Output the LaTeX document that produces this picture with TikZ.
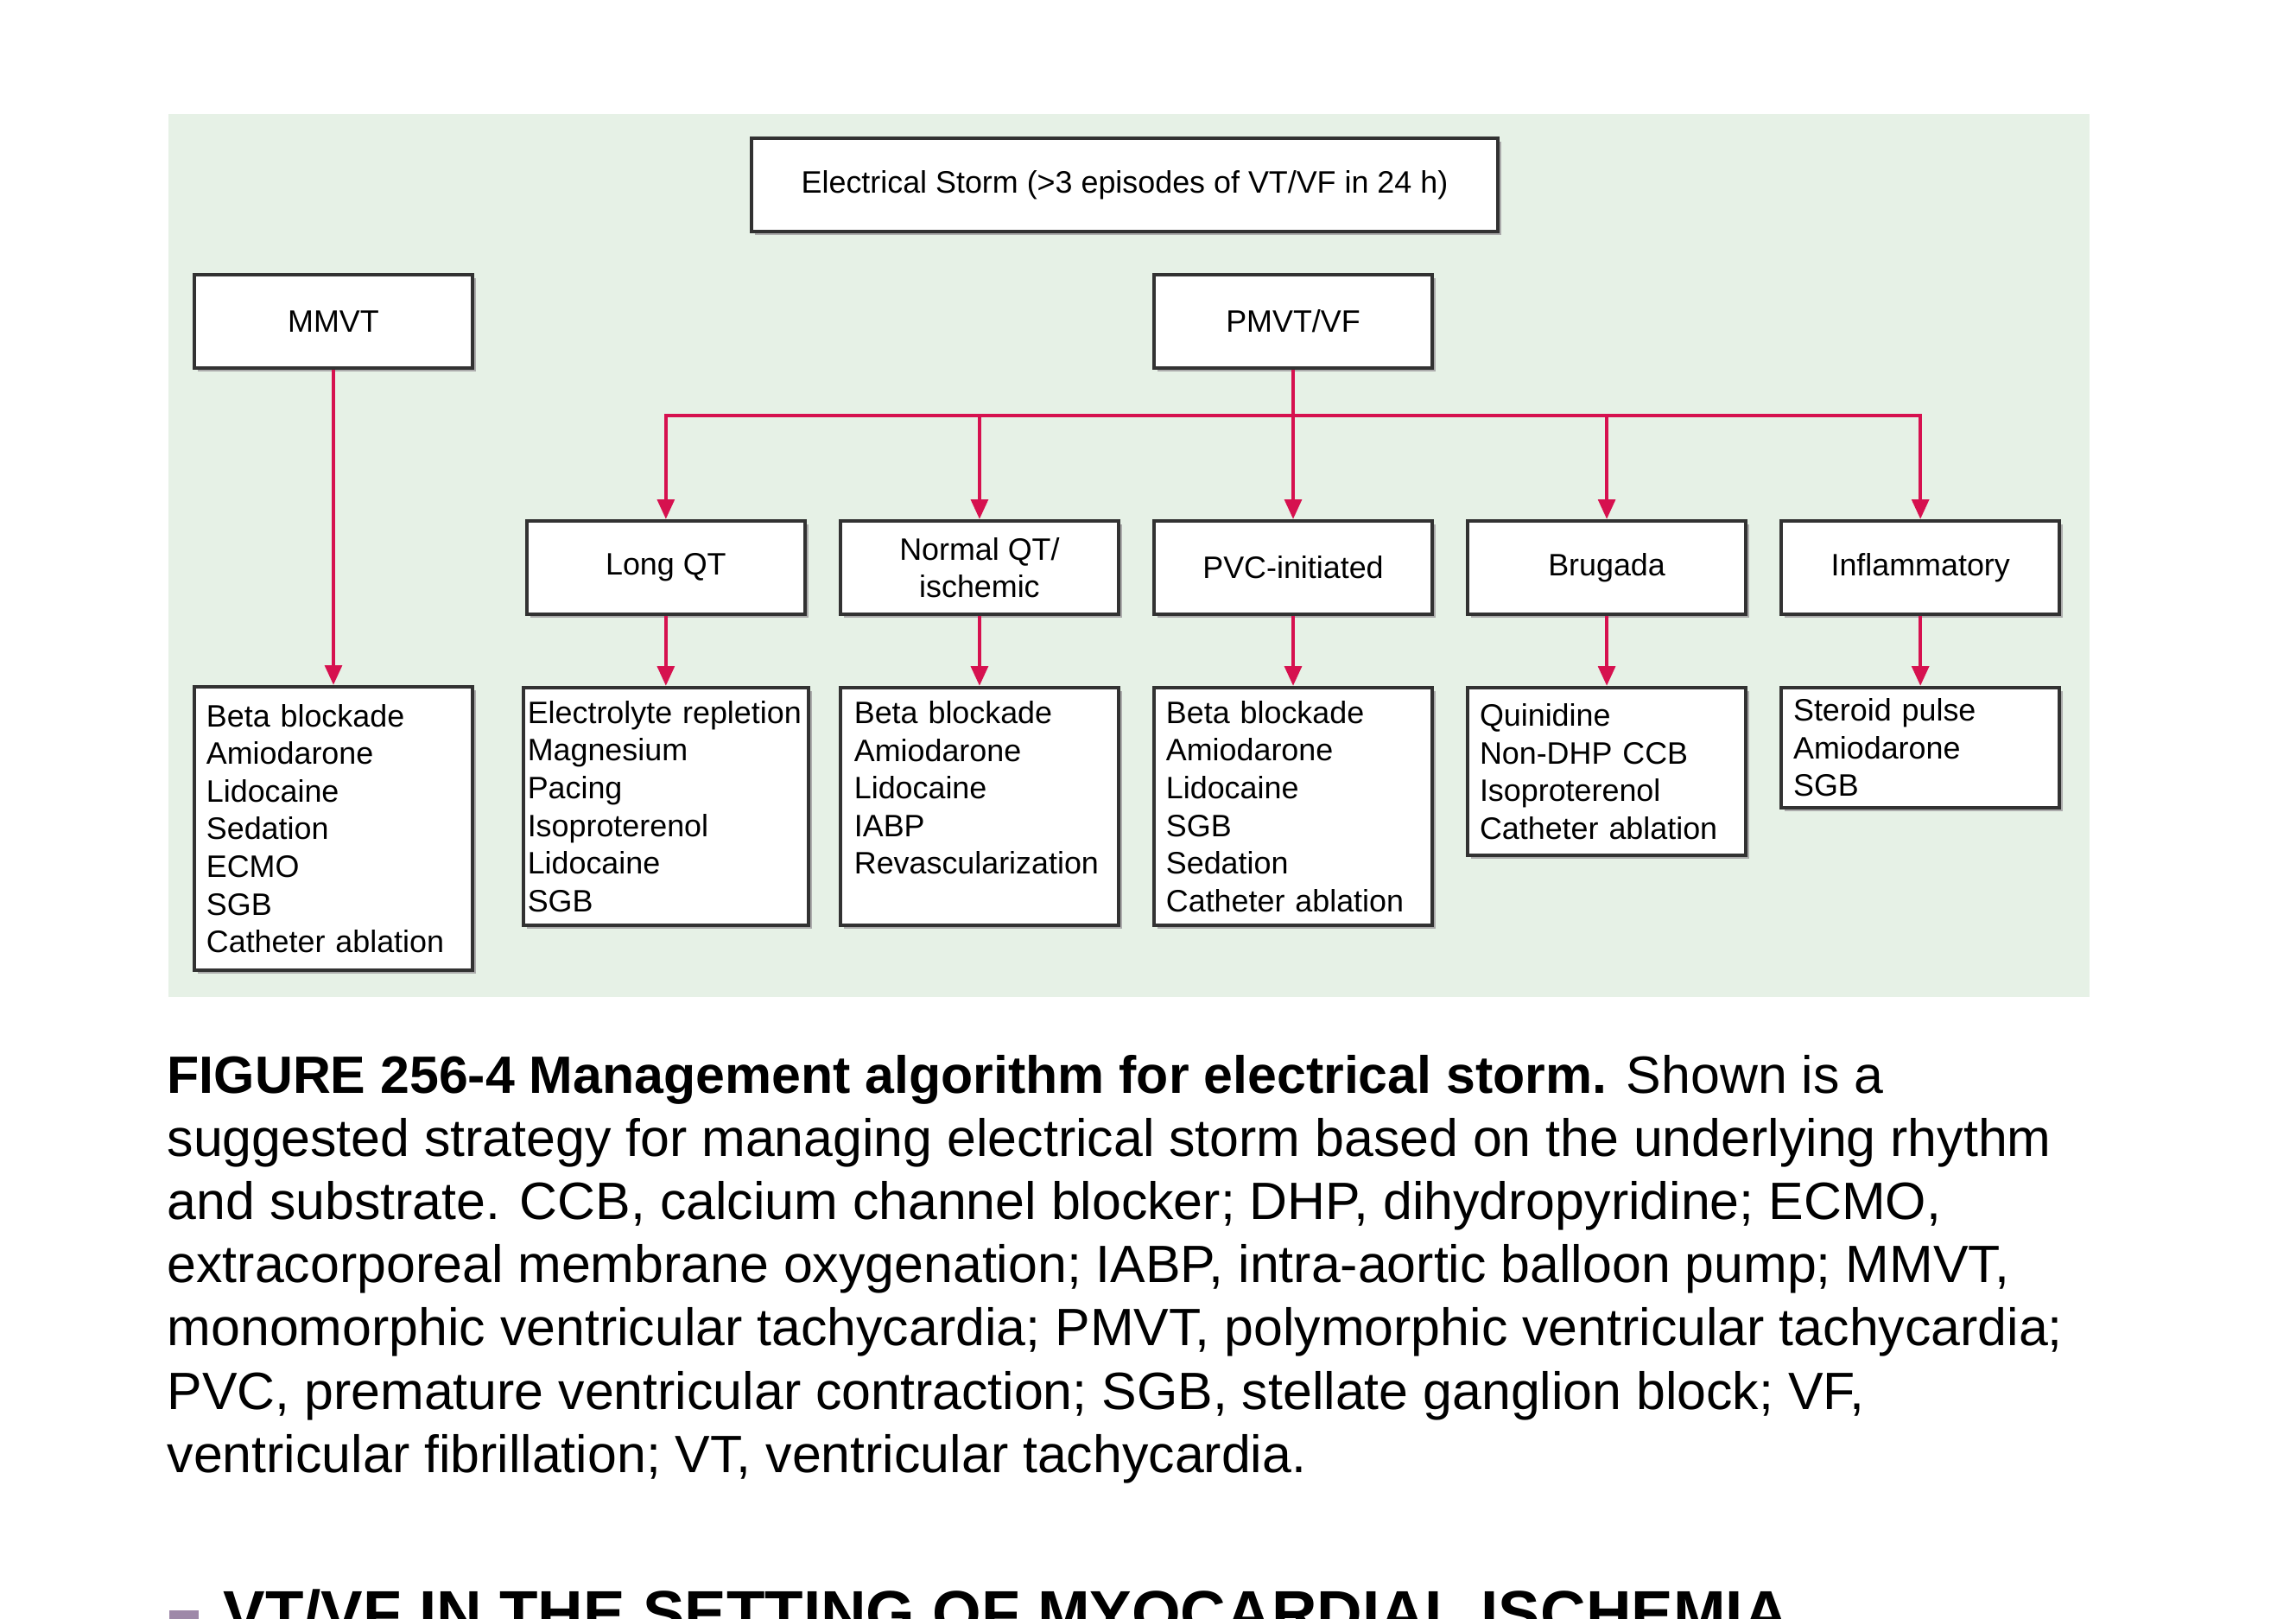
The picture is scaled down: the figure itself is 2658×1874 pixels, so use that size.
\documentclass[tikz,border=0pt]{standalone}
\usepackage{fontspec}
\setmainfont{Liberation Sans}
\usetikzlibrary{arrows.meta,positioning,shadows}
\definecolor{panelcolor}{RGB}{230,241,230}
\definecolor{arrowcolor}{RGB}{214,17,79}
\definecolor{framecolor}{RGB}{50,50,50}
\definecolor{markcolor}{RGB}{158,136,168}

\begin{document}
\begin{tikzpicture}[
    x=0.01cm,y=-0.01cm,
    every node/.style={font=\fontsize{10.2}{12.4}\selectfont},
    box/.style={draw=framecolor,line width=1.1pt,fill=white,
                drop shadow={shadow xshift=1.1pt,shadow yshift=-1.1pt,
                             fill=gray!65,opacity=1},
                minimum width=3.22cm,minimum height=1.08cm,align=center},
    listbox/.style={box,align=left,text width=2.94cm,inner xsep=0.14cm,
                    inner ysep=0.08cm},
    arrow/.style={-{Triangle[length=6.5pt,width=5.5pt]},line width=1.3pt,
                  draw=arrowcolor}
]
\clip (0,0) rectangle (2658,1874);
\fill[white] (0,0) rectangle (2658,1874);
\fill[panelcolor] (195,132) rectangle (2419,1154);

% top level
\node[box,minimum width=8.63cm] (storm) at (1302,214)
    {Electrical Storm (>3 episodes of VT/VF in 24 h)};
\node[box] (mmvt) at (386,372) {MMVT};
\node[box] (pmvt) at (1497,372) {PMVT/VF};

% substrates
\node[box] (pvc) at (1497,657) {PVC-initiated};
\node[box,left=0.37cm of pvc] (normal) {Normal QT/\\ischemic};
\node[box,left=0.37cm of normal] (longqt) {Long QT};
\node[box,right=0.37cm of pvc] (brugada) {Brugada};
\node[box,right=0.37cm of brugada] (inflam) {Inflammatory};

% therapies
\node[listbox,anchor=north,minimum height=3.28cm] (mmvtlist) at (386,793)
    {Beta blockade\\Amiodarone\\Lidocaine\\Sedation\\ECMO\\SGB\\Catheter ablation};
\node[listbox,below=0.81cm of longqt,minimum height=2.75cm,text width=3.2cm,
      inner xsep=0.05cm] (longqtlist)
    {Electrolyte repletion\\Magnesium\\Pacing\\Isoproterenol\\Lidocaine\\SGB};
\node[listbox,below=0.81cm of normal,minimum height=2.75cm,text width=2.9cm,
      inner xsep=0.16cm] (normallist)
    {Beta blockade\\Amiodarone\\Lidocaine\\IABP\\Revascularization\\\mbox{}};
\node[listbox,below=0.81cm of pvc,minimum height=2.75cm] (pvclist)
    {Beta blockade\\Amiodarone\\Lidocaine\\SGB\\Sedation\\Catheter ablation};
\node[listbox,below=0.81cm of brugada,minimum height=1.94cm] (brugadalist)
    {Quinidine\\Non-DHP CCB\\Isoproterenol\\Catheter ablation};
\node[listbox,below=0.81cm of inflam,minimum height=1.39cm] (inflamlist)
    {Steroid pulse\\Amiodarone\\SGB};

\coordinate (branch) at (1497,481);
\draw[arrow] (mmvt) -- (mmvtlist);
\draw[arrow] (pmvt) -- (pvc);
\draw[arrow] (branch) -| (longqt);
\draw[arrow] (branch) -| (normal);
\draw[arrow] (branch) -| (brugada);
\draw[arrow] (branch) -| (inflam);
\draw[arrow] (longqt) -- (longqtlist);
\draw[arrow] (normal) -- (normallist);
\draw[arrow] (pvc) -- (pvclist);
\draw[arrow] (brugada) -- (brugadalist);
\draw[arrow] (inflam) -- (inflamlist);

% caption and next heading
\node[anchor=north west,align=left,inner sep=0,
      font=\fontsize{17.3}{20.77}\selectfont] (caption) at (193,1221)
    {\textbf{FIGURE 256-4 Management algorithm for electrical storm.} Shown is a\\
     suggested strategy for managing electrical storm based on the underlying rhythm\\
     and substrate. CCB, calcium channel blocker; DHP, dihydropyridine; ECMO,\\
     extracorporeal membrane oxygenation; IABP, intra-aortic balloon pump; MMVT,\\
     monomorphic ventricular tachycardia; PMVT, polymorphic ventricular tachycardia;\\
     PVC, premature ventricular contraction; SGB, stellate ganglion block; VF,\\
     ventricular fibrillation; VT, ventricular tachycardia.};
\node[fill=markcolor,inner sep=0,minimum width=0.34cm,minimum height=0.34cm,
      anchor=north west] (bullet) at (195,1863) {};
\node[anchor=base west,inner sep=0,
      font=\bfseries\fontsize{20.7}{24}\selectfont] (heading) at (258,1892)
    {VT/VF IN THE SETTING OF MYOCARDIAL ISCHEMIA};
\end{tikzpicture}
\end{document}
